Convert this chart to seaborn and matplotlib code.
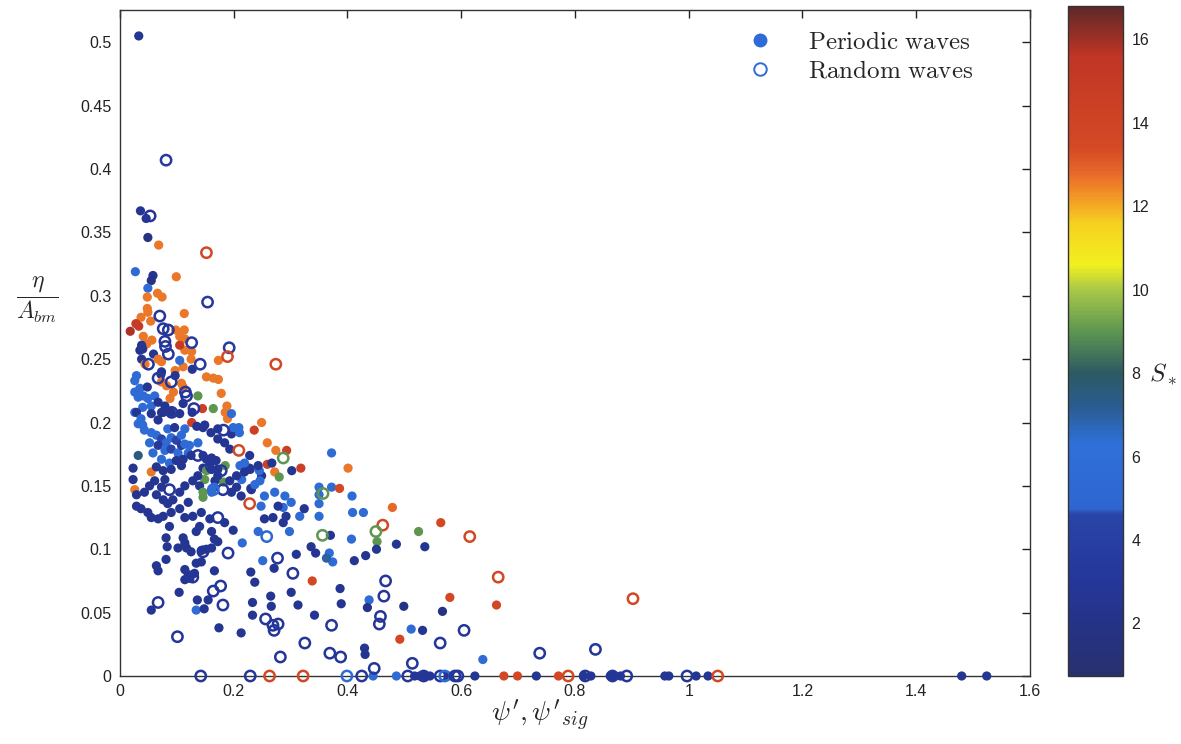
import numpy as np
import matplotlib
matplotlib.use("Agg")
import matplotlib.pyplot as plt
import seaborn as sns
from matplotlib.colors import LinearSegmentedColormap, Normalize
from matplotlib.cm import ScalarMappable
from matplotlib.lines import Line2D

# ---------------- data ----------------
# Periodic waves: (psi', eta/A_bm, S*)
periodic_psi = [
    0.033, 0.036, 0.046, 0.049, 0.068, 0.027, 0.058, 0.055, 0.099, 0.049,
    0.048, 0.066, 0.074, 0.048, 0.049, 0.113, 0.037, 0.054, 0.018, 0.028,
    0.033, 0.098, 0.113, 0.105, 0.114, 0.041, 0.056, 0.047, 0.038, 0.035,
    0.114, 0.126, 0.125, 0.105, 0.059, 0.067, 0.073, 0.173, 0.127, 0.038,
    0.044, 0.097, 0.111, 0.152, 0.164, 0.173, 0.029, 0.026, 0.072, 0.097,
    0.073, 0.082, 0.108, 0.111, 0.035, 0.041, 0.032, 0.026, 0.178, 0.137,
    0.048, 0.094, 0.088, 0.040, 0.073, 0.105, 0.049, 0.061, 0.055, 0.040,
    0.067, 0.079, 0.073, 0.090, 0.105, 0.111, 0.145, 0.164, 0.188, 0.185,
    0.189, 0.196, 0.127, 0.126, 0.026, 0.249, 0.209, 0.236, 0.146, 0.160,
    0.196, 0.259, 0.274, 0.293, 0.372, 0.401, 0.318, 0.259, 0.302, 0.272,
    0.280, 0.350, 0.372, 0.386, 0.408, 0.350, 0.350, 0.249, 0.267, 0.229,
    0.230, 0.245, 0.246, 0.214, 0.211, 0.185, 0.182, 0.149, 0.146, 0.193,
    0.196, 0.167,
    # dense cluster
    0.029, 0.037, 0.040, 0.043, 0.032, 0.055, 0.067, 0.076, 0.055, 0.064,
    0.073, 0.081, 0.090, 0.099, 0.108, 0.067, 0.079, 0.090, 0.102, 0.058,
    0.052, 0.084, 0.096, 0.114, 0.108, 0.120, 0.032, 0.023, 0.055, 0.073,
    0.087, 0.099, 0.111, 0.108, 0.090, 0.076, 0.064, 0.125, 0.146, 0.152,
    0.161, 0.169, 0.158, 0.146, 0.172, 0.122, 0.137, 0.114, 0.135, 0.149,
    0.172, 0.184, 0.172, 0.193, 0.199, 0.210, 0.228, 0.243, 0.228, 0.219,
    0.152, 0.161, 0.172, 0.137, 0.128, 0.140, 0.166, 0.161, 0.205, 0.219,
    0.205, 0.213, 0.231, 0.237, 0.254, 0.248, 0.272, 0.290, 0.287, 0.301,
    0.278, 0.269, 0.287, 0.292, 0.254, 0.316,
    # lower left
    0.023, 0.026, 0.029, 0.043, 0.052, 0.061, 0.079, 0.073, 0.064, 0.076,
    0.084, 0.093, 0.105, 0.114, 0.120, 0.105, 0.090, 0.076, 0.067, 0.055,
    0.049, 0.037, 0.029, 0.114, 0.128, 0.143, 0.140, 0.158, 0.184, 0.087,
    0.081, 0.111, 0.146, 0.134, 0.161, 0.199, 0.083, 0.102, 0.114, 0.117,
    0.125, 0.143, 0.152, 0.161, 0.166, 0.172, 0.081, 0.064, 0.067, 0.114,
    0.120, 0.114, 0.131, 0.134, 0.143, 0.123, 0.166, 0.104, 0.155, 0.136,
    0.055, 0.134, 0.148, 0.174, 0.213, 0.215, 0.251, 0.230, 0.237, 0.271,
    0.310, 0.301, 0.313, 0.342, 0.336, 0.344, 0.265, 0.266, 0.233, 0.233,
    0.338, 0.243, 0.298,
    # middle
    0.350, 0.324, 0.409, 0.428, 0.479, 0.564, 0.525, 0.452, 0.370, 0.407,
    0.486, 0.536, 0.451, 0.432, 0.412, 0.368, 0.374, 0.363, 0.387, 0.389,
    0.438, 0.435, 0.580, 0.662, 0.499, 0.567, 0.512, 0.532, 0.492, 0.430,
    0.431, 0.638,
    # on the axis
    0.445, 0.486, 0.518, 0.527, 0.536, 0.545, 0.577, 0.624, 0.675, 0.699,
    0.732, 0.771, 0.815, 0.828, 0.862, 0.869, 0.880, 0.958, 0.965, 1.013,
    1.034, 1.480, 1.524,
]
periodic_eta = [
    0.505, 0.367, 0.361, 0.346, 0.340, 0.319, 0.316, 0.312, 0.315, 0.306,
    0.299, 0.302, 0.299, 0.290, 0.287, 0.286, 0.283, 0.280, 0.272, 0.278,
    0.276, 0.273, 0.273, 0.268, 0.266, 0.268, 0.265, 0.262, 0.261, 0.257,
    0.257, 0.256, 0.250, 0.261, 0.254, 0.250, 0.248, 0.249, 0.242, 0.250,
    0.246, 0.241, 0.244, 0.236, 0.235, 0.234, 0.237, 0.233, 0.238, 0.237,
    0.232, 0.229, 0.231, 0.228, 0.227, 0.221, 0.220, 0.224, 0.223, 0.221,
    0.228, 0.224, 0.219, 0.258, 0.240, 0.249, 0.219, 0.221, 0.213, 0.212,
    0.216, 0.213, 0.208, 0.208, 0.207, 0.215, 0.211, 0.211, 0.213, 0.208,
    0.203, 0.207, 0.208, 0.200, 0.208, 0.200, 0.196, 0.194, 0.196, 0.192,
    0.191, 0.184, 0.178, 0.178, 0.176, 0.164, 0.164, 0.167, 0.162, 0.161,
    0.157, 0.149, 0.149, 0.148, 0.142, 0.143, 0.136, 0.158, 0.168, 0.163,
    0.148, 0.162, 0.154, 0.155, 0.166, 0.166, 0.153, 0.155, 0.141, 0.154,
    0.145, 0.154,
    # dense cluster
    0.208, 0.203, 0.198, 0.194, 0.199, 0.207, 0.202, 0.208, 0.192, 0.190,
    0.187, 0.184, 0.188, 0.186, 0.190, 0.182, 0.178, 0.179, 0.176, 0.176,
    0.184, 0.195, 0.196, 0.195, 0.182, 0.176, 0.174, 0.164, 0.161, 0.171,
    0.168, 0.170, 0.171, 0.166, 0.163, 0.162, 0.165, 0.174, 0.174, 0.171,
    0.172, 0.170, 0.167, 0.164, 0.163, 0.182, 0.184, 0.183, 0.197, 0.198,
    0.195, 0.184, 0.187, 0.179, 0.196, 0.192, 0.174, 0.166, 0.164, 0.168,
    0.162, 0.163, 0.158, 0.158, 0.154, 0.150, 0.149, 0.145, 0.158, 0.161,
    0.149, 0.142, 0.147, 0.151, 0.142, 0.134, 0.145, 0.142, 0.133, 0.137,
    0.134, 0.125, 0.121, 0.126, 0.124, 0.126,
    # lower left
    0.155, 0.147, 0.143, 0.145, 0.150, 0.154, 0.155, 0.149, 0.143, 0.139,
    0.136, 0.139, 0.145, 0.150, 0.137, 0.132, 0.129, 0.126, 0.124, 0.125,
    0.129, 0.132, 0.134, 0.125, 0.126, 0.129, 0.118, 0.124, 0.121, 0.118,
    0.109, 0.109, 0.145, 0.114, 0.114, 0.115, 0.102, 0.101, 0.105, 0.101,
    0.098, 0.099, 0.100, 0.101, 0.108, 0.106, 0.092, 0.087, 0.083, 0.084,
    0.080, 0.076, 0.081, 0.089, 0.090, 0.077, 0.083, 0.066, 0.060, 0.060,
    0.052, 0.052, 0.053, 0.038, 0.034, 0.105, 0.091, 0.082, 0.074, 0.085,
    0.096, 0.066, 0.056, 0.048, 0.102, 0.097, 0.063, 0.055, 0.058, 0.048,
    0.075, 0.114, 0.114,
    # middle
    0.126, 0.132, 0.129, 0.129, 0.133, 0.121, 0.114, 0.106, 0.111, 0.108,
    0.104, 0.102, 0.100, 0.095, 0.091, 0.097, 0.090, 0.093, 0.069, 0.057,
    0.060, 0.054, 0.062, 0.056, 0.055, 0.051, 0.037, 0.036, 0.029, 0.022,
    0.017, 0.013,
    # on the axis
    0.0, 0.0, 0.0, 0.0, 0.0, 0.0, 0.0, 0.0, 0.0, 0.0,
    0.0, 0.0, 0.0, 0.0, 0.0, 0.0, 0.0, 0.0, 0.0, 0.0,
    0.0, 0.0, 0.0,
]
periodic_s = [
    2.6, 2.6, 2.6, 1.8, 12.6, 5.6, 2.6, 1.8, 12.6, 5.6,
    12.6, 12.6, 12.6, 12.6, 12.6, 12.6, 12.6, 12.6, 15.8, 15.0,
    15.0, 12.6, 12.6, 12.6, 12.6, 12.6, 12.6, 12.6, 2.6, 1.8,
    12.6, 12.6, 12.6, 15.0, 2.6, 12.6, 12.6, 12.6, 2.6, 2.6,
    12.6, 12.6, 12.6, 12.6, 12.6, 12.6, 5.6, 5.6, 2.6, 2.6,
    12.6, 12.6, 12.6, 12.6, 5.6, 5.6, 5.6, 5.6, 12.6, 9.0,
    2.6, 12.6, 12.6, 2.6, 2.6, 5.6, 5.6, 5.6, 5.6, 5.6,
    2.6, 2.6, 2.6, 2.6, 2.6, 2.6, 14.5, 9.0, 12.6, 12.6,
    12.6, 5.6, 2.6, 14.5, 5.6, 12.6, 5.6, 14.5, 2.6, 2.6,
    2.6, 12.6, 12.6, 14.5, 5.6, 12.6, 14.5, 14.5, 2.6, 12.6,
    9.0, 5.6, 5.6, 13.6, 5.6, 5.6, 5.6, 2.6, 2.6, 2.6,
    2.6, 5.6, 5.6, 5.6, 5.6, 9.0, 9.0, 9.0, 9.0, 2.6,
    2.6, 2.6,
    # dense cluster
    2.6, 5.6, 5.6, 5.6, 5.6, 2.6, 2.6, 2.6, 5.6, 5.6,
    4.6, 5.6, 5.6, 4.6, 5.6, 3.5, 5.6, 4.6, 5.6, 5.6,
    5.6, 5.6, 2.6, 5.6, 3.5, 5.6, 7.5, 2.6, 12.6, 5.6,
    5.6, 2.6, 2.6, 2.6, 2.6, 2.6, 2.6, 2.6, 2.6, 2.6,
    2.6, 2.6, 2.6, 2.6, 2.6, 5.6, 5.6, 5.6, 2.6, 2.6,
    2.6, 2.6, 2.6, 2.6, 5.6, 5.6, 2.6, 2.6, 2.6, 5.6,
    9.0, 2.6, 2.6, 2.6, 2.6, 2.6, 5.6, 5.6, 2.6, 2.6,
    2.6, 2.6, 2.6, 5.6, 5.6, 5.6, 5.6, 5.6, 5.6, 5.6,
    2.6, 2.6, 2.6, 2.6, 2.6, 5.6,
    # lower left
    2.6, 12.6, 2.6, 2.6, 2.6, 2.6, 2.6, 2.6, 2.6, 2.6,
    2.6, 2.6, 2.6, 2.6, 2.6, 2.6, 2.6, 2.6, 2.6, 2.6,
    2.6, 2.6, 2.6, 2.6, 2.6, 2.6, 2.6, 2.6, 2.6, 2.6,
    2.6, 2.6, 9.0, 2.6, 2.6, 2.6, 2.6, 2.6, 2.6, 2.6,
    2.6, 2.6, 2.6, 2.6, 2.6, 2.6, 2.6, 2.6, 2.6, 2.6,
    2.6, 2.6, 2.6, 2.6, 2.6, 2.6, 2.6, 2.6, 2.6, 2.6,
    2.6, 5.6, 2.6, 2.6, 2.6, 5.6, 5.6, 2.6, 2.6, 2.6,
    2.6, 2.6, 2.6, 2.6, 2.6, 2.6, 2.6, 2.6, 2.6, 2.6,
    13.6, 5.6, 5.6,
    # middle
    5.6, 2.6, 5.6, 5.6, 12.8, 13.6, 9.0, 9.0, 2.6, 5.6,
    2.6, 2.6, 2.6, 2.6, 2.6, 5.6, 5.6, 7.0, 2.6, 2.6,
    5.6, 2.0, 13.6, 13.6, 2.0, 2.0, 5.6, 2.6, 13.6, 2.6,
    2.6, 5.6,
    # on the axis
    5.6, 5.6, 2.6, 2.6, 2.6, 2.6, 2.6, 2.6, 13.6, 13.6,
    2.6, 13.6, 2.6, 2.6, 2.6, 2.6, 2.6, 2.6, 2.6, 2.6,
    2.6, 2.6, 2.6,
]

# Random waves: (psi'_sig, eta/A_bm, S*)
random_psi = [
    0.081, 0.053, 0.152, 0.154, 0.070, 0.076, 0.085, 0.079, 0.080, 0.126,
    0.085, 0.192, 0.189, 0.274, 0.141, 0.050, 0.067, 0.090, 0.115, 0.117,
    0.130, 0.091, 0.182, 0.209, 0.287, 0.357, 0.137, 0.178, 0.161, 0.181,
    0.087, 0.164, 0.172, 0.228, 0.258, 0.462, 0.450, 0.356, 0.615, 0.146,
    0.190, 0.128, 0.164, 0.177, 0.067, 0.181, 0.101, 0.277, 0.304, 0.256,
    0.269, 0.278, 0.271, 0.325, 0.282, 0.665, 0.467, 0.464, 0.902, 0.458,
    0.456, 0.372, 0.605, 0.563, 0.369, 0.388, 0.447, 0.514, 0.738, 0.836,
    # on the axis
    0.142, 0.229, 0.263, 0.322, 0.399, 0.425, 0.506, 0.534, 0.563, 0.571,
    0.589, 0.594, 0.788, 0.818, 0.866, 0.891, 0.997, 1.051,
]
random_eta = [
    0.407, 0.363, 0.334, 0.295, 0.284, 0.274, 0.273, 0.264, 0.260, 0.263,
    0.254, 0.259, 0.252, 0.246, 0.246, 0.246, 0.235, 0.232, 0.224, 0.221,
    0.211, 0.208, 0.194, 0.178, 0.172, 0.144, 0.174, 0.162, 0.165, 0.147,
    0.147, 0.147, 0.125, 0.136, 0.110, 0.119, 0.114, 0.111, 0.110, 0.098,
    0.097, 0.078, 0.067, 0.071, 0.058, 0.056, 0.031, 0.093, 0.081, 0.045,
    0.040, 0.041, 0.036, 0.026, 0.015, 0.078, 0.075, 0.063, 0.061, 0.047,
    0.041, 0.040, 0.036, 0.026, 0.018, 0.015, 0.006, 0.010, 0.018, 0.021,
    # on the axis
    0.0, 0.0, 0.0, 0.0, 0.0, 0.0, 0.0, 0.0, 0.0, 0.0,
    0.0, 0.0, 0.0, 0.0, 0.0, 0.0, 0.0, 0.0,
]
random_s = [
    3.5, 3.0, 13.6, 3.5, 3.0, 3.0, 3.0, 3.0, 3.0, 3.5,
    3.0, 3.5, 13.6, 13.6, 3.5, 3.0, 3.5, 3.0, 3.0, 3.0,
    3.0, 3.0, 3.0, 13.6, 9.0, 9.0, 3.0, 3.0, 3.0, 3.0,
    3.0, 5.6, 3.0, 13.6, 5.0, 13.6, 9.0, 9.0, 13.6, 3.0,
    3.0, 3.0, 3.0, 3.0, 3.0, 3.0, 3.0, 3.0, 3.0, 3.0,
    3.0, 3.0, 3.0, 3.0, 3.0, 13.6, 3.0, 3.0, 13.6, 3.0,
    3.0, 3.0, 3.0, 3.0, 3.0, 3.0, 3.0, 3.0, 3.0, 3.0,
    # on the axis
    3.0, 3.0, 13.6, 13.6, 5.6, 3.0, 3.0, 3.0, 3.0, 5.6,
    3.0, 3.0, 13.6, 3.0, 3.0, 3.0, 3.0, 13.6,
]

x_ticks = [0, 0.2, 0.4, 0.6, 0.8, 1.0, 1.2, 1.4, 1.6]
x_tick_labels = ["0", "0.2", "0.4", "0.6", "0.8", "1", "1.2", "1.4", "1.6"]
y_ticks = [0, 0.05, 0.1, 0.15, 0.2, 0.25, 0.3, 0.35, 0.4, 0.45, 0.5]
y_tick_labels = ["0", "0.05", "0.1", "0.15", "0.2", "0.25", "0.3", "0.35", "0.4", "0.45", "0.5"]
cbar_ticks = [2, 4, 6, 8, 10, 12, 14, 16]

# ---------------- style ----------------
sns.set_style("white")
plt.rcParams["font.family"] = ["Liberation Sans", "DejaVu Sans"]
plt.rcParams["mathtext.fontset"] = "cm"

S_MIN, S_MAX = 0.74, 16.8
stops = [
    (0.74, "#27306e"), (3.0, "#24369a"), (4.6, "#2a44a8"), (4.75, "#2e66d0"),
    (6.3, "#2f70d8"), (7.2, "#2a5c90"), (8.0, "#2c5a62"), (9.0, "#5e9650"),
    (10.0, "#a8c848"), (10.6, "#f2f020"), (11.6, "#f6d020"), (12.2, "#f39a25"),
    (12.8, "#e8682a"), (13.4, "#d44a25"), (15.6, "#c03525"), (16.8, "#5e2828"),
]
cmap = LinearSegmentedColormap.from_list(
    "s_star", [((v - S_MIN) / (S_MAX - S_MIN), c) for v, c in stops], N=512
)
norm = Normalize(vmin=S_MIN, vmax=S_MAX)

fig = plt.figure(figsize=(11.81, 7.44), dpi=100)
ax = fig.add_axes([0.1016, 0.0914, 0.7705, 0.8952])
cax = fig.add_axes([0.9043, 0.0914, 0.0466, 0.9005])

sns.scatterplot(x=periodic_psi, y=periodic_eta, hue=periodic_s, palette=cmap,
                hue_norm=norm, s=44, edgecolor="none", linewidth=0,
                legend=False, ax=ax, zorder=3, clip_on=False)
sns.scatterplot(x=random_psi, y=random_eta, hue=random_s, palette=cmap,
                hue_norm=norm, s=55, legend=False, ax=ax, zorder=4,
                clip_on=False)
# turn the random-wave markers into open rings
rings = ax.collections[-1]
ring_colors = rings.get_facecolors()
rings.set_facecolors("none")
rings.set_edgecolors(ring_colors)
rings.set_linewidths(1.8)

ax.set_xlim(0, 1.6)
ax.set_ylim(0, 0.5255)
ax.set_xticks(x_ticks)
ax.set_xticklabels(x_tick_labels)
ax.set_yticks(y_ticks)
ax.set_yticklabels(y_tick_labels)
ax.tick_params(direction="in", top=True, right=True, length=6, width=1,
               labelsize=11.5, colors="#222222", pad=6)
for sp in ax.spines.values():
    sp.set_color("#333333")
    sp.set_linewidth(1.0)
ax.set_xlabel("")
ax.set_ylabel("")

fig.text(0.457, 0.038, r"$\psi', \psi'_{sig}$", ha="center", va="center",
         fontsize=20)
fig.text(0.032, 0.597, r"$\dfrac{\eta}{A_{bm}}$", ha="center", va="center",
         fontsize=17)

legend_handles = [
    Line2D([], [], marker="o", linestyle="none", markersize=9,
           markerfacecolor="#2e6ad8", markeredgecolor="#2e6ad8"),
    Line2D([], [], marker="o", linestyle="none", markersize=9,
           markerfacecolor="none", markeredgecolor="#2e6ad8",
           markeredgewidth=1.4),
]
ax.legend(legend_handles,
          [r"$\mathrm{Periodic\ waves}$", r"$\mathrm{Random\ waves}$"],
          loc="upper left", bbox_to_anchor=(0.665, 0.985), frameon=False,
          fontsize=18, handletextpad=0.9, labelspacing=0.18,
          borderaxespad=0.0)

cb = fig.colorbar(ScalarMappable(norm=norm, cmap=cmap), cax=cax)
cb.set_ticks(cbar_ticks)
cb.outline.set_linewidth(1.0)
cb.outline.set_edgecolor("#333333")
cax.tick_params(direction="in", left=True, right=True, length=6, width=1,
                labelsize=11.5, colors="#222222", pad=6)
cax.text(1.47, 0.45, r"$S_*$", transform=cax.transAxes, fontsize=18,
         ha="left", va="center")

fig.savefig("out.png", dpi=100)
